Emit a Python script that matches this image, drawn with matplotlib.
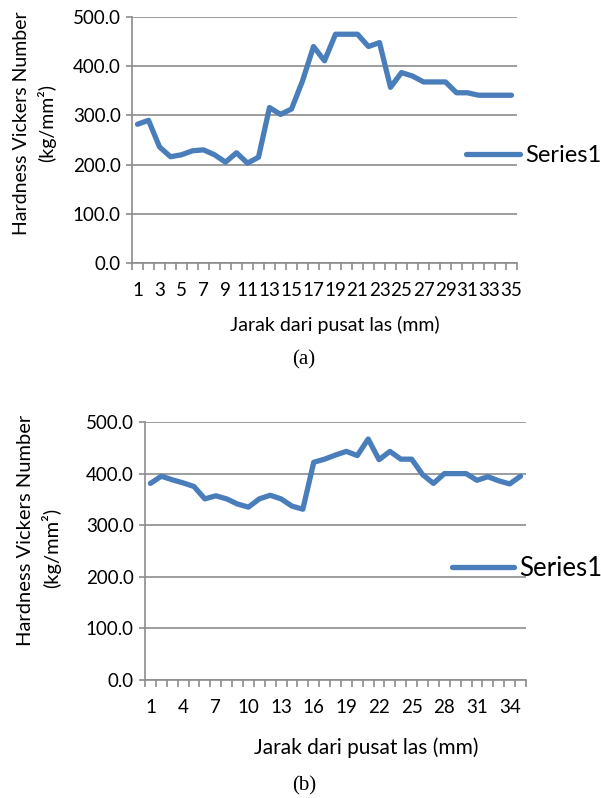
import matplotlib.pyplot as plt
import numpy as np

# data
jarak = list(range(1, 36))
hv_a = [282, 290, 236, 216, 220, 228, 230, 220, 205, 224, 203, 215, 316, 302, 313,
        370, 440, 411, 465, 465, 465, 440, 448, 357, 387, 380, 368, 368, 368, 346,
        346, 341, 341, 341, 341]
hv_b = [381, 395, 388, 382, 375, 351, 357, 351, 341, 335, 351, 358, 351, 337, 331,
        422, 428, 436, 443, 435, 467, 427, 443, 428, 428, 398, 381, 400, 400, 400,
        387, 394, 386, 380, 395]
y_ticks = [0, 100, 200, 300, 400, 500]

plt.rcParams['font.family'] = ['Lato', 'DejaVu Sans']
W, H = 601, 798
garis = "#4A7EBB"
abu = "#8C8C8C"

fig = plt.figure(figsize=(W / 100, H / 100), dpi=100)


def px_axes(l, t, r, b):
    return fig.add_axes([l / W, 1 - b / H, (r - l) / W, (b - t) / H])


def gambar(ax, hv, step, legend_xy, legend_fs, hl):
    ax.plot(jarak, hv, color=garis, lw=3.8, solid_joinstyle="round",
            solid_capstyle="round", label="Series1")
    ax.set_xlim(0.5, len(jarak) + 0.5)
    ax.set_ylim(0, 500)
    ax.set_yticks(y_ticks)
    ax.set_yticklabels([f"{v:.1f}" for v in y_ticks])
    ax.yaxis.grid(True, color=abu, lw=1.2)
    ax.set_axisbelow(True)
    for s in ["top", "right"]:
        ax.spines[s].set_visible(False)
    for s in ["left", "bottom"]:
        ax.spines[s].set_color(abu)
        ax.spines[s].set_linewidth(1.2)
    ax.tick_params(axis="y", length=4, color=abu, width=1.2, labelsize=13.5, pad=4)
    # category labels in the middle, tick marks on the boundaries
    ax.set_xticks(jarak[::step])
    ax.set_xticklabels([str(j) for j in jarak[::step]])
    ax.tick_params(axis="x", which="major", length=0, labelsize=13.5, pad=14)
    ax.set_xticks(np.arange(0.5, len(jarak) + 1, 1), minor=True)
    ax.tick_params(axis="x", which="minor", length=5, color=abu, width=1.2)
    ax.legend(loc="center left", bbox_to_anchor=(legend_xy[0] / W, 1 - legend_xy[1] / H),
              bbox_transform=fig.transFigure, frameon=False, fontsize=legend_fs,
              handlelength=hl, handletextpad=0.2, borderpad=0, borderaxespad=0)


ax1 = px_axes(132, 17, 517, 263)
gambar(ax1, hv_a, 2, (466, 156), 17, 2.3)
fig.text(22 / W, 1 - 123 / H, "Hardness Vickers Number", rotation=90,
         ha="center", va="center", fontsize=14)
fig.text(47 / W, 1 - 123 / H, "(kg/mm²)", rotation=90, ha="center", va="center", fontsize=14)
fig.text(335 / W, 1 - 325 / H, "Jarak dari pusat las (mm)", ha="center", va="center", fontsize=14)
fig.text(304 / W, 1 - 360 / H, "(a)", ha="center", va="center", fontsize=15,
         family="Liberation Serif")

ax2 = px_axes(145, 422, 526, 680)
gambar(ax2, hv_b, 3, (452, 568), 18.5, 2.4)
fig.text(26 / W, 1 - 530 / H, "Hardness Vickers Number", rotation=90,
         ha="center", va="center", fontsize=14.5)
fig.text(51 / W, 1 - 548 / H, "(kg/mm²)", rotation=90, ha="center", va="center", fontsize=14.5)
fig.text(366 / W, 1 - 748 / H, "Jarak dari pusat las (mm)", ha="center", va="center", fontsize=15)
fig.text(304 / W, 1 - 786 / H, "(b)", ha="center", va="center", fontsize=15,
         family="Liberation Serif")

fig.savefig("out.png", dpi=100)
